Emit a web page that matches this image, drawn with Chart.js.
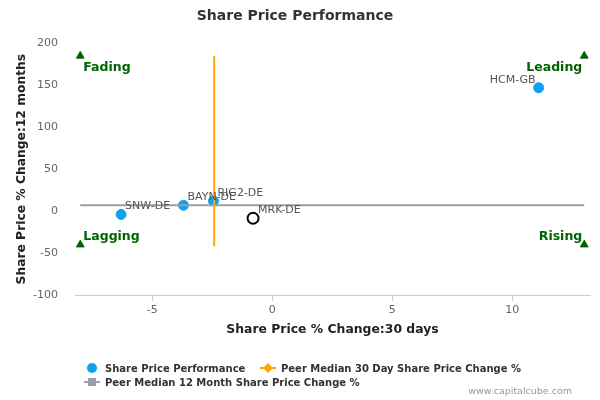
<!DOCTYPE html>
<html>
<head>
<meta charset="utf-8">
<script src="https://cdn.jsdelivr.net/npm/chart.js@4"></script>
<style>
  html, body { margin: 0; padding: 0; background: #fff; }
  #wrap { position: relative; width: 600px; height: 400px; }
</style>
</head>
<body>
<div id="wrap"><canvas id="chart" width="600" height="400"></canvas></div>
<script>
// ============ DATA ============
const tickers = ['HCM-GB', 'SNW-DE', 'BAYN-DE', 'RIG2-DE'];
const change30d = [11.1, -6.3, -3.7, -2.45];
const change12m = [147, -4, 7, 12];

const focusTicker = 'MRK-DE';
const focus30d = -0.8;
const focus12m = -8.5;

const peerMedian30d = -2.42;
const peerMedian30dRange = [185, -42];
const peerMedian12m = 7;
const peerMedian12mRange = [-8, 13];

const quadrantNames = ['Fading', 'Leading', 'Lagging', 'Rising'];
const quadrantX = [-8, 13, -8, 13];
const quadrantY = [185, 185, -40, -40];

const xTicks = [-5, 0, 5, 10];
const yTicks = [-100, -50, 0, 50, 100, 150, 200];

const legendNames = [
    'Share Price Performance',
    'Peer Median 30 Day Share Price Change %',
    'Peer Median 12 Month Share Price Change %'
];

// ============ COLORS / FONTS ============
const FONT = '"DejaVu Sans", Verdana, sans-serif';
const BLUE = '#0FA0EE';
const ORANGE = '#FFA500';
const GRAY = '#989EAC';
const GREEN = '#006400';

// ============ LABEL PLUGIN ============
const labelPlugin = {
    id: 'labels',
    afterDatasetsDraw(chart) {
        const ctx = chart.ctx;
        const xs = chart.scales.x;
        const ys = chart.scales.y;
        ctx.save();

        // point labels
        ctx.font = '11px ' + FONT;
        ctx.fillStyle = '#555';
        ctx.textBaseline = 'middle';
        tickers.forEach((t, i) => {
            const px = xs.getPixelForValue(change30d[i]);
            const py = ys.getPixelForValue(change12m[i]);
            if (i === 0) {
                ctx.textAlign = 'right';
                ctx.fillText(t, px - 3, py - 8);
            } else {
                ctx.textAlign = 'left';
                ctx.fillText(t, px + 4, py - 8);
            }
        });
        ctx.textAlign = 'left';
        ctx.fillText(focusTicker, xs.getPixelForValue(focus30d) + 5, ys.getPixelForValue(focus12m) - 8);

        // quadrant labels
        ctx.font = 'bold 12.5px ' + FONT;
        ctx.fillStyle = GREEN;
        quadrantNames.forEach((name, i) => {
            const px = xs.getPixelForValue(quadrantX[i]);
            const py = ys.getPixelForValue(quadrantY[i]);
            const top = quadrantY[i] > 0;
            ctx.textAlign = i % 2 === 0 ? 'left' : 'right';
            const dx = i % 2 === 0 ? 3 : -2;
            ctx.fillText(name, px + dx, top ? py + 12 : py - 8);
        });

        // legend
        ctx.font = 'bold 10px ' + FONT;
        ctx.textAlign = 'left';
        ctx.beginPath();
        ctx.fillStyle = BLUE;
        ctx.arc(92, 368, 5, 0, Math.PI * 2);
        ctx.fill();
        ctx.fillStyle = '#333';
        ctx.fillText(legendNames[0], 105, 369);

        ctx.strokeStyle = ORANGE;
        ctx.lineWidth = 2;
        ctx.beginPath();
        ctx.moveTo(260, 368);
        ctx.lineTo(276, 368);
        ctx.stroke();
        ctx.fillStyle = ORANGE;
        ctx.beginPath();
        ctx.moveTo(268, 363);
        ctx.lineTo(273, 368);
        ctx.lineTo(268, 373);
        ctx.lineTo(263, 368);
        ctx.closePath();
        ctx.fill();
        ctx.fillStyle = '#333';
        ctx.fillText(legendNames[1], 281, 369);

        ctx.strokeStyle = GRAY;
        ctx.beginPath();
        ctx.moveTo(84, 382);
        ctx.lineTo(100, 382);
        ctx.stroke();
        ctx.fillStyle = GRAY;
        ctx.fillRect(88, 378, 8, 8);
        ctx.fillStyle = '#333';
        ctx.fillText(legendNames[2], 105, 383);

        // credit
        ctx.font = '9.5px ' + FONT;
        ctx.fillStyle = '#999';
        ctx.textAlign = 'right';
        ctx.fillText('www.capitalcube.com', 572, 392);

        ctx.restore();
    }
};

// ============ CHART ============
const ctx = document.getElementById('chart').getContext('2d');
new Chart(ctx, {
    type: 'scatter',
    data: {
        datasets: [
            {
                label: legendNames[1],
                type: 'line',
                data: peerMedian30dRange.map(v => ({ x: peerMedian30d, y: v })),
                borderColor: ORANGE,
                borderWidth: 2,
                pointRadius: 0,
                showLine: true
            },
            {
                label: legendNames[2],
                type: 'line',
                data: peerMedian12mRange.map(v => ({ x: v, y: peerMedian12m })),
                borderColor: GRAY,
                borderWidth: 2,
                pointRadius: 0,
                showLine: true
            },
            {
                label: legendNames[0],
                data: tickers.map((t, i) => ({ x: change30d[i], y: change12m[i] })),
                backgroundColor: BLUE,
                borderColor: BLUE,
                pointRadius: 5,
                pointHoverRadius: 5
            },
            {
                label: focusTicker,
                data: [{ x: focus30d, y: focus12m }],
                backgroundColor: '#fff',
                borderColor: '#000',
                borderWidth: 2,
                pointRadius: 5.5
            },
            {
                label: 'quadrants',
                data: quadrantX.map((x, i) => ({ x: x, y: quadrantY[i] })),
                pointStyle: 'triangle',
                backgroundColor: GREEN,
                borderColor: GREEN,
                pointRadius: 4.5
            }
        ]
    },
    options: {
        responsive: false,
        animation: false,
        layout: { padding: { left: 0, right: 10, top: 0, bottom: 59 } },
        plugins: {
            legend: { display: false },
            tooltip: { enabled: false },
            title: {
                display: true,
                text: 'Share Price Performance',
                color: '#333',
                font: { family: FONT, size: 14, weight: 'bold' },
                padding: { top: 8, bottom: 18.5 }
            }
        },
        scales: {
            x: {
                type: 'linear',
                min: -8.22,
                max: 13.24,
                afterBuildTicks: scale => { scale.ticks = xTicks.map(v => ({ value: v })); },
                afterFit: scale => { scale.height = 46; },
                grid: { drawOnChartArea: false, drawTicks: true, tickLength: 6, color: '#C0D0E0' },
                border: { color: '#C0D0E0' },
                ticks: { color: '#666', font: { family: FONT, size: 11 }, padding: 3 },
                title: {
                    display: true,
                    text: 'Share Price % Change:30 days',
                    color: '#222',
                    font: { family: FONT, size: 12.4, weight: 'bold' },
                    padding: { top: 4, bottom: 4 }
                }
            },
            y: {
                min: -100,
                max: 200,
                afterBuildTicks: scale => { scale.ticks = yTicks.map(v => ({ value: v })); },
                afterFit: scale => { scale.width = 75; },
                grid: { display: false },
                border: { display: false },
                ticks: { color: '#666', font: { family: FONT, size: 11 }, padding: 9 },
                title: {
                    display: true,
                    text: 'Share Price % Change:12 months',
                    color: '#222',
                    font: { family: FONT, size: 12.3, weight: 'bold' },
                    padding: { top: 14, bottom: 4 }
                }
            }
        }
    },
    plugins: [labelPlugin]
});
</script>
</body>
</html>
